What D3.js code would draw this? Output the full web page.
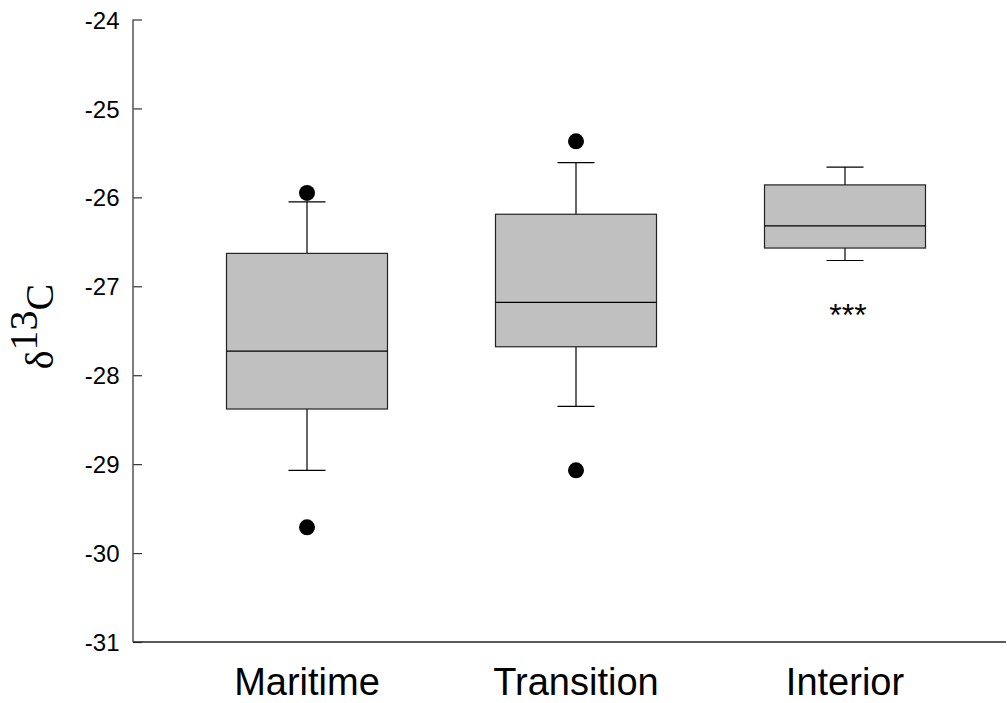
<!DOCTYPE html>
<html>
<head>
<meta charset="utf-8">
<script src="https://cdn.jsdelivr.net/npm/d3@7"></script>
<style>
  html, body { margin: 0; padding: 0; background: #fff; }
  svg { display: block; }
</style>
</head>
<body>
<svg id="chart" width="1007" height="703"></svg>
<script>
// ---- data ----
const categories = ["Maritime", "Transition", "Interior"];
const q1Values = [-28.38, -27.68, -26.57];
const medianValues = [-27.73, -27.18, -26.32];
const q3Values = [-26.63, -26.19, -25.86];
const whiskerLowValues = [-29.07, -28.35, -26.71];
const whiskerHighValues = [-26.05, -25.61, -25.66];
const outlierValues = [[-25.95, -29.71], [-25.37, -29.07], []];
const yTickValues = [-31, -30, -29, -28, -27, -26, -25, -24];
const annotations = ["", "", "***"];
const annotationValues = [null, null, -27.24];

// ---- layout ----
const svg = d3.select("#chart");
const axisX = 133, axisBottom = 642, axisTop = 19.5, axisRight = 1006;
const boxWidth = 161, capWidth = 37, dotR = 8;

const y = d3.scaleLinear().domain([-31, -24]).range([axisBottom, axisTop]);
const x = d3.scalePoint().domain(categories).range([307, 845]);

const boxes = categories.map((c, i) => ({
  cat: c, q1: q1Values[i], med: medianValues[i], q3: q3Values[i],
  lo: whiskerLowValues[i], hi: whiskerHighValues[i],
  out: outlierValues[i], ann: annotations[i], annV: annotationValues[i]
}));

// y axis
const yAxis = d3.axisRight(y).tickValues(yTickValues).tickSize(9).tickFormat(d => String(d));
const gy = svg.append("g").attr("transform", `translate(${axisX},0)`).call(yAxis);
gy.select(".domain").remove();
gy.selectAll(".tick line").attr("stroke", "#333").attr("stroke-width", 1.2);
gy.selectAll(".tick text")
  .attr("x", -13.5).attr("dy", "0.36em")
  .attr("text-anchor", "end")
  .attr("font-family", "Arial, 'Liberation Sans', sans-serif")
  .attr("font-size", 24).attr("fill", "#000");
svg.append("line").attr("x1", axisX).attr("x2", axisX)
  .attr("y1", axisTop).attr("y2", axisBottom)
  .attr("stroke", "#555").attr("stroke-width", 1.5);

// x axis line
svg.append("line").attr("x1", axisX).attr("x2", axisRight)
  .attr("y1", axisBottom).attr("y2", axisBottom)
  .attr("stroke", "#222").attr("stroke-width", 1.3);

// category labels
svg.selectAll(".cat").data(categories).enter().append("text")
  .attr("x", d => x(d)).attr("y", 695)
  .attr("text-anchor", "middle")
  .attr("font-family", "Arial, 'Liberation Sans', sans-serif")
  .attr("font-size", 38).attr("fill", "#000")
  .text(d => d);

// boxes
const g = svg.selectAll(".box").data(boxes).enter().append("g");
g.append("line").attr("x1", d => x(d.cat)).attr("x2", d => x(d.cat))
  .attr("y1", d => y(d.hi)).attr("y2", d => y(d.q3))
  .attr("stroke", "#000").attr("stroke-width", 1.2);
g.append("line").attr("x1", d => x(d.cat)).attr("x2", d => x(d.cat))
  .attr("y1", d => y(d.q1)).attr("y2", d => y(d.lo))
  .attr("stroke", "#000").attr("stroke-width", 1.2);
g.append("line").attr("x1", d => x(d.cat) - capWidth / 2).attr("x2", d => x(d.cat) + capWidth / 2)
  .attr("y1", d => y(d.hi)).attr("y2", d => y(d.hi))
  .attr("stroke", "#000").attr("stroke-width", 1.2);
g.append("line").attr("x1", d => x(d.cat) - capWidth / 2).attr("x2", d => x(d.cat) + capWidth / 2)
  .attr("y1", d => y(d.lo)).attr("y2", d => y(d.lo))
  .attr("stroke", "#000").attr("stroke-width", 1.2);
g.append("rect")
  .attr("x", d => x(d.cat) - boxWidth / 2).attr("width", boxWidth)
  .attr("y", d => y(d.q3)).attr("height", d => y(d.q1) - y(d.q3))
  .attr("fill", "#c0c0c0").attr("stroke", "#222").attr("stroke-width", 1.2);
g.append("line").attr("x1", d => x(d.cat) - boxWidth / 2).attr("x2", d => x(d.cat) + boxWidth / 2)
  .attr("y1", d => y(d.med)).attr("y2", d => y(d.med))
  .attr("stroke", "#000").attr("stroke-width", 1.2);
g.selectAll(".out").data(d => d.out.map(v => ({ cat: d.cat, v }))).enter().append("circle")
  .attr("cx", d => x(d.cat)).attr("cy", d => y(d.v)).attr("r", dotR).attr("fill", "#000");
g.filter(d => d.ann).append("text")
  .attr("x", d => x(d.cat) + 3).attr("y", d => y(d.annV)).attr("dy", "0.56em")
  .attr("text-anchor", "middle")
  .attr("font-family", "Arial, 'Liberation Sans', sans-serif")
  .attr("font-size", 32).attr("fill", "#000")
  .text(d => d.ann);

// y title
const title = svg.append("text")
  .attr("transform", "translate(53,326.5) rotate(-90)")
  .attr("text-anchor", "middle")
  .attr("font-family", "'Times New Roman', 'Liberation Serif', serif")
  .attr("font-size", 40).attr("fill", "#000");
title.append("tspan").text("δ");
title.append("tspan").attr("dy", -16).text("13");
title.append("tspan").attr("dy", 16).text("C");
</script>
</body>
</html>
